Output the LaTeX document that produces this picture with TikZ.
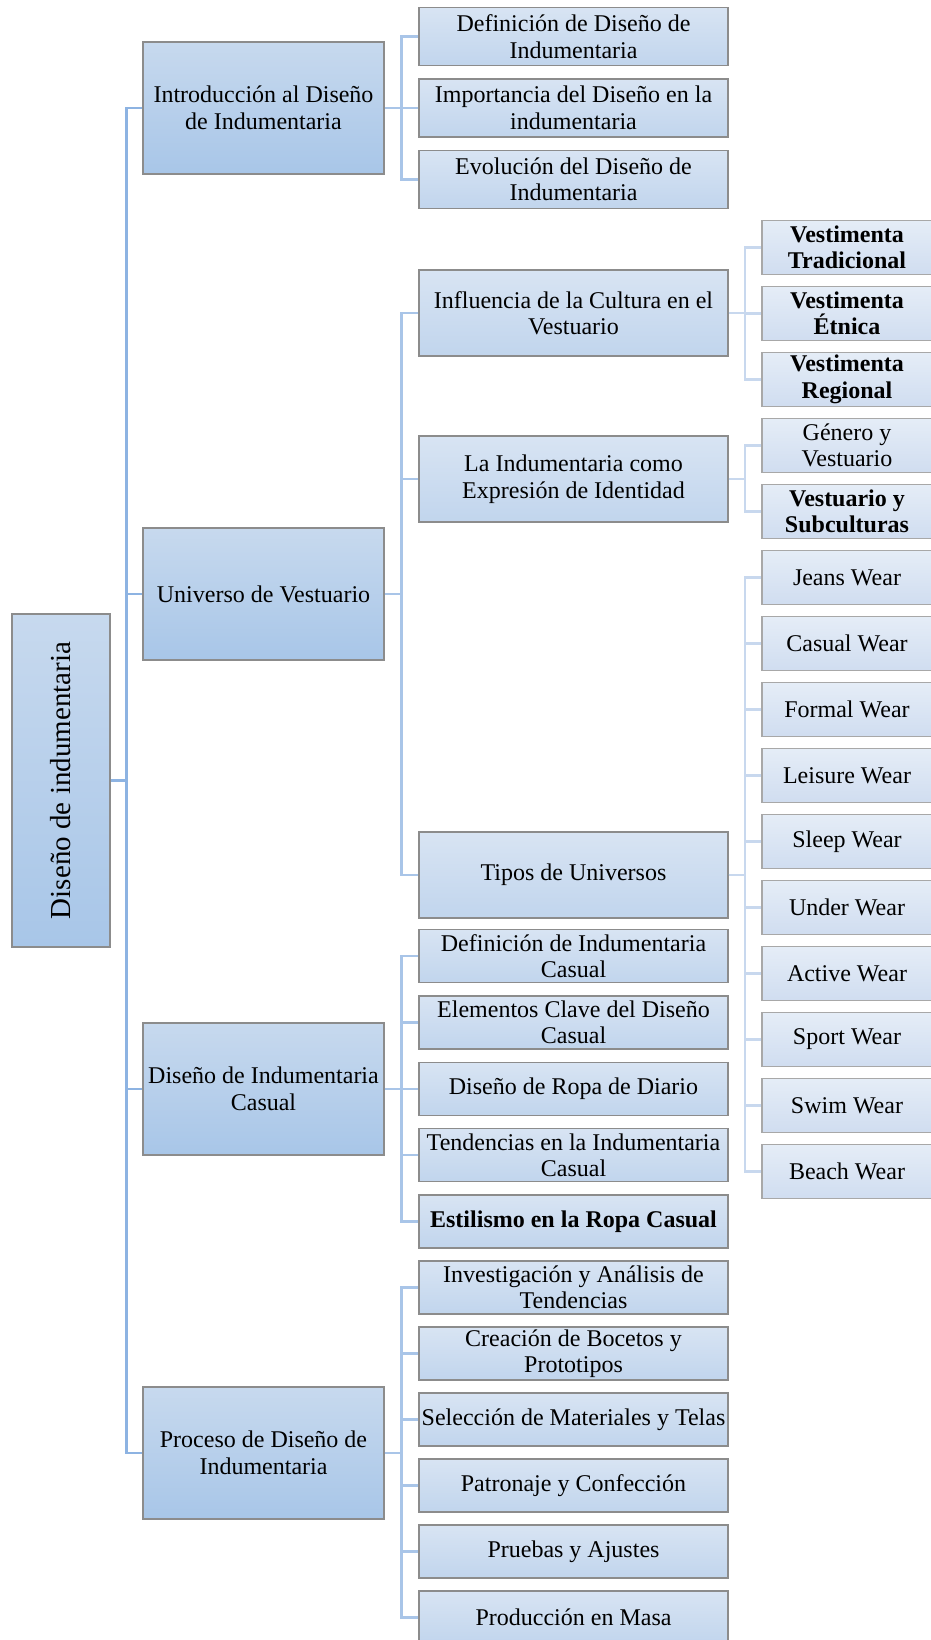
\documentclass[tikz,border=0pt]{standalone}
\usepackage{fontspec}
\setmainfont{Liberation Serif}
\usetikzlibrary{calc}
\definecolor{azultronco}{HTML}{8DB3E2}
\definecolor{azulrama}{HTML}{A9C5E8}
\definecolor{azulramita}{HTML}{C8D8EE}
\definecolor{altoa}{HTML}{C7D9EE}
\definecolor{bajoa}{HTML}{A8C6E8}
\definecolor{altob}{HTML}{D8E4F3}
\definecolor{bajob}{HTML}{C1D5ED}
\definecolor{altoc}{HTML}{E5EDF7}
\definecolor{bajoc}{HTML}{D0DDF0}
\definecolor{borde}{HTML}{8C8C8C}
\definecolor{bordeclaro}{HTML}{A8A8A8}

\begin{document}
\begin{tikzpicture}[
  x=1pt, y=-1pt,
  font=\fontsize{24}{26.5}\selectfont,
  negrita/.style={font=\fontsize{24}{26.5}\selectfont\bfseries},
  caja/.style={rectangle,draw=borde,line width=1.5pt,align=center,inner sep=0pt},
  raiz/.style={caja,top color=altoa,bottom color=bajoa,minimum width=98pt,minimum height=333pt},
  tema/.style={caja,top color=altoa,bottom color=bajoa,minimum width=241pt,minimum height=132pt},
  sub/.style={caja,top color=altob,bottom color=bajob,minimum width=309pt,minimum height=53pt},
  hoja/.style={caja,draw=bordeclaro,top color=altoc,bottom color=bajoc,minimum width=170pt,minimum height=54pt},
  tronco/.style={azultronco,line width=2.5pt},
  rama/.style={azulrama,line width=2.5pt},
  ramita/.style={azulramita,line width=2.5pt},
]
  % cuadro fijo del dibujo (pixeles de la figura original)
  \useasboundingbox (0,0) rectangle (930,1640);

  \node[raiz] (disenio) at (61,780.5)
        {\rotatebox{90}{\fontsize{29}{32}\selectfont Diseño de indumentaria}};

  % primer nivel
  \node[tema] (intro)   at (263.5,108)  {Introducción al Diseño\\de Indumentaria};
  \node[tema] (univ)    at (263.5,594)  {Universo de Vestuario};
  \node[tema] (casual)  at (263.5,1089) {Diseño de Indumentaria\\Casual};
  \node[tema] (proceso) at (263.5,1453) {Proceso de Diseño de\\Indumentaria};

  % segundo nivel
  \node[sub,minimum height=58pt] (def) at (573.5,36.5)  {Definición de Diseño de\\Indumentaria};
  \node[sub,minimum height=58pt] (imp) at (573.5,108)   {Importancia del Diseño en la\\indumentaria};
  \node[sub,minimum height=58pt] (evo) at (573.5,179.5) {Evolución del Diseño de\\Indumentaria};

  \node[sub,minimum height=86pt] (influ) at (573.5,313) {Influencia de la Cultura en el\\Vestuario};
  \node[sub,minimum height=86pt] (ident) at (573.5,479) {La Indumentaria como\\Expresión de Identidad};
  \node[sub,minimum height=86pt] (tipos) at (573.5,875) {Tipos de Universos};

  \node[sub] (defcas) at (573.5,956)    {Definición de Indumentaria\\Casual};
  \node[sub] (clave)  at (573.5,1022.4) {Elementos Clave del Diseño\\Casual};
  \node[sub] (diario) at (573.5,1088.8) {Diseño de Ropa de Diario};
  \node[sub] (tend)   at (573.5,1155.1) {Tendencias en la Indumentaria\\Casual};
  \node[sub,negrita] (estil) at (573.5,1221.5) {Estilismo en la Ropa Casual};

  \node[sub] (inves) at (573.5,1287.5) {Investigación y Análisis de\\Tendencias};
  \node[sub] (boce)  at (573.5,1353.5) {Creación de Bocetos y\\Prototipos};
  \node[sub] (mate)  at (573.5,1419.5) {Selección de Materiales y Telas};
  \node[sub] (patro) at (573.5,1485.5) {Patronaje y Confección};
  \node[sub] (prueb) at (573.5,1551.5) {Pruebas y Ajustes};
  \node[sub] (masa)  at (573.5,1617.5) {Producción en Masa};

  % tercer nivel (la columna se sale por la derecha, como en el original)
  \node[hoja,negrita] (trad)   at (847,247.5) {Vestimenta\\Tradicional};
  \node[hoja,negrita] (etnica) at (847,313.5) {Vestimenta\\Étnica};
  \node[hoja,negrita] (regio)  at (847,379.5) {Vestimenta\\Regional};
  \node[hoja]         (genero) at (847,445.5) {Género y\\Vestuario};
  \node[hoja,negrita] (subcul) at (847,511.5) {Vestuario y\\Subculturas};

  \node[hoja] (jeans)  at (847,577.5)  {Jeans Wear};
  \node[hoja] (casw)   at (847,643.5)  {Casual Wear};
  \node[hoja] (formal) at (847,709.5)  {Formal Wear};
  \node[hoja] (leis)   at (847,775.5)  {Leisure Wear};
  \node[hoja] (sleep)  at (847,841.5)  {Sleep Wear};
  \node[hoja] (under)  at (847,907.5)  {Under Wear};
  \node[hoja] (active) at (847,973.5)  {Active Wear};
  \node[hoja] (sport)  at (847,1039.5) {Sport Wear};
  \node[hoja] (swim)   at (847,1105.5) {Swim Wear};
  \node[hoja] (beach)  at (847,1171.5) {Beach Wear};

  % conectores en escuadra: el codo va a media distancia entre padre e hijo
  \foreach \h in {intro,univ,casual,proceso}
    \draw[tronco] (disenio.east) -| ($(disenio.east)!.5!(\h.west)$) |- (\h.west);

  \foreach \h in {def,imp,evo}
    \draw[rama] (intro.east) -| ($(intro.east)!.5!(\h.west)$) |- (\h.west);
  \foreach \h in {influ,ident,tipos}
    \draw[rama] (univ.east) -| ($(univ.east)!.5!(\h.west)$) |- (\h.west);
  \foreach \h in {defcas,clave,diario,tend,estil}
    \draw[rama] (casual.east) -| ($(casual.east)!.5!(\h.west)$) |- (\h.west);
  \foreach \h in {inves,boce,mate,patro,prueb,masa}
    \draw[rama] (proceso.east) -| ($(proceso.east)!.5!(\h.west)$) |- (\h.west);

  \foreach \h in {trad,etnica,regio}
    \draw[ramita] (influ.east) -| ($(influ.east)!.5!(\h.west)$) |- (\h.west);
  \foreach \h in {genero,subcul}
    \draw[ramita] (ident.east) -| ($(ident.east)!.5!(\h.west)$) |- (\h.west);
  \foreach \h in {jeans,casw,formal,leis,sleep,under,active,sport,swim,beach}
    \draw[ramita] (tipos.east) -| ($(tipos.east)!.5!(\h.west)$) |- (\h.west);
\end{tikzpicture}
\end{document}
